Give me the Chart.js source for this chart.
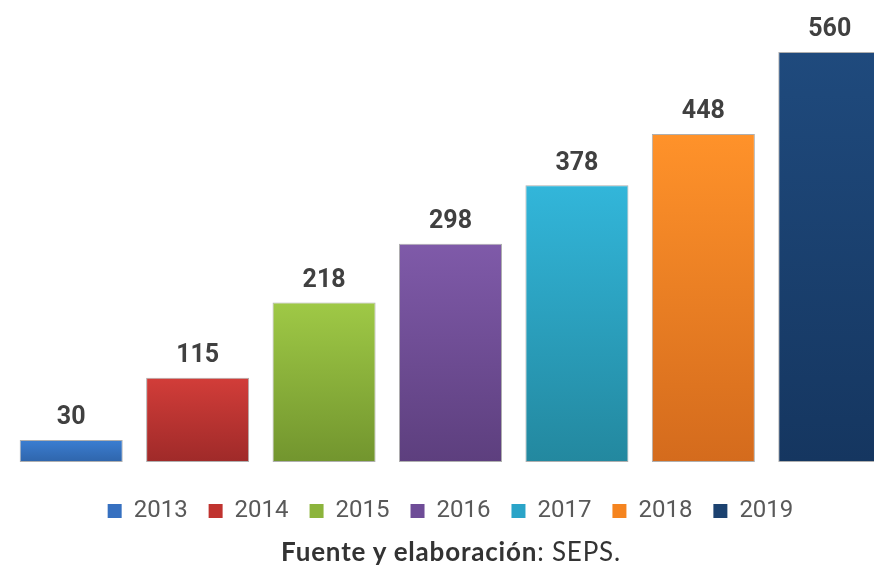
<!DOCTYPE html>
<html>
<head>
<meta charset="utf-8">
<script src="https://cdn.jsdelivr.net/npm/chart.js@4/dist/chart.umd.min.js"></script>
<style>
  html, body { margin: 0; padding: 0; background: #fff; overflow: hidden; }
  body { width: 874px; height: 567px; position: relative; }
  #wrap { position: absolute; left: 0; top: 0; width: 893px; height: 560px; }
  #caption {
    position: absolute; left: 0; width: 902px; top: 536px;
    text-align: center; font-family: 'Lato', 'Noto Sans', sans-serif;
    font-size: 26px; letter-spacing: 0.8px; color: #333; line-height: 31px;
  }
  #caption b { font-weight: 700; }
</style>
</head>
<body>
<div id="wrap"><canvas id="seps"></canvas></div>
<div id="caption"><b>Fuente y elaboración</b>: SEPS.</div>
<script>
// Data
const years = ['2013', '2014', '2015', '2016', '2017', '2018', '2019'];
const counts = [30, 115, 218, 298, 378, 448, 560];

// Bar colours: top of gradient, bottom of gradient, legend swatch
const TOP = ['#3b7ed2', '#d23d39', '#9fc946', '#7f5aa9', '#32b6da', '#ff922a', '#1f4a7d'];
const BOTTOM = ['#2f65ab', '#9f2a29', '#72952e', '#5d3f7e', '#23889f', '#d46b1d', '#153660'];
const SWATCH = ['#3670c0', '#c0332f', '#8cb43c', '#6e4c97', '#2aa4c8', '#f5841f', '#1c4270'];

// gradient per bar, from its own top to the baseline
function barFill(ctx) {
  const chart = ctx.chart;
  const i = ctx.dataIndex;
  if (!chart.chartArea || ctx.raw == null) return TOP[i];
  const y = chart.scales.y;
  const g = chart.ctx.createLinearGradient(0, y.getPixelForValue(ctx.raw), 0, y.getPixelForValue(0));
  g.addColorStop(0, TOP[i]);
  g.addColorStop(1, BOTTOM[i]);
  return g;
}

// value labels above the bars
const valueLabels = {
  id: 'valueLabels',
  afterDatasetsDraw(chart) {
    const c = chart.ctx;
    const meta = chart.getDatasetMeta(0);
    c.save();
    c.font = 'bold 25px Roboto, sans-serif';
    c.fillStyle = '#404040';
    c.textAlign = 'center';
    c.textBaseline = 'middle';
    meta.data.forEach((bar, i) => {
      c.fillText(String(counts[i]), bar.x, bar.y - 22);
    });
    c.restore();
  }
};

new Chart(document.getElementById('seps'), {
  type: 'bar',
  data: {
    labels: years,
    datasets: [{
      data: counts,
      backgroundColor: barFill,
      borderColor: 'rgba(110,110,110,0.55)',
      borderWidth: 1,
      borderSkipped: false,
      categoryPercentage: 1,
      barPercentage: 0.815
    }]
  },
  options: {
    responsive: true,
    maintainAspectRatio: false,
    animation: false,
    layout: { padding: { left: 8, right: 0, top: 52, bottom: 27 } },
    plugins: {
      tooltip: { enabled: false },
      legend: {
        display: true,
        position: 'bottom',
        onClick: null,
        labels: {
          boxWidth: 14,
          boxHeight: 14,
          padding: 21,
          color: '#595959',
          font: { family: 'Roboto, sans-serif', size: 24, weight: 'normal' },
          generateLabels: () => years.map((y, i) => ({
            text: y,
            fillStyle: SWATCH[i],
            strokeStyle: SWATCH[i],
            lineWidth: 0,
            hidden: false,
            index: i,
            fontColor: '#595959'
          }))
        }
      }
    },
    scales: {
      x: {
        display: true,
        grid: { display: false },
        border: { display: false },
        ticks: { display: false },
        afterFit(scale) { scale.height = 16; }
      },
      y: {
        display: false,
        min: 0,
        max: 560
      }
    }
  },
  plugins: [valueLabels]
});
</script>
</body>
</html>
